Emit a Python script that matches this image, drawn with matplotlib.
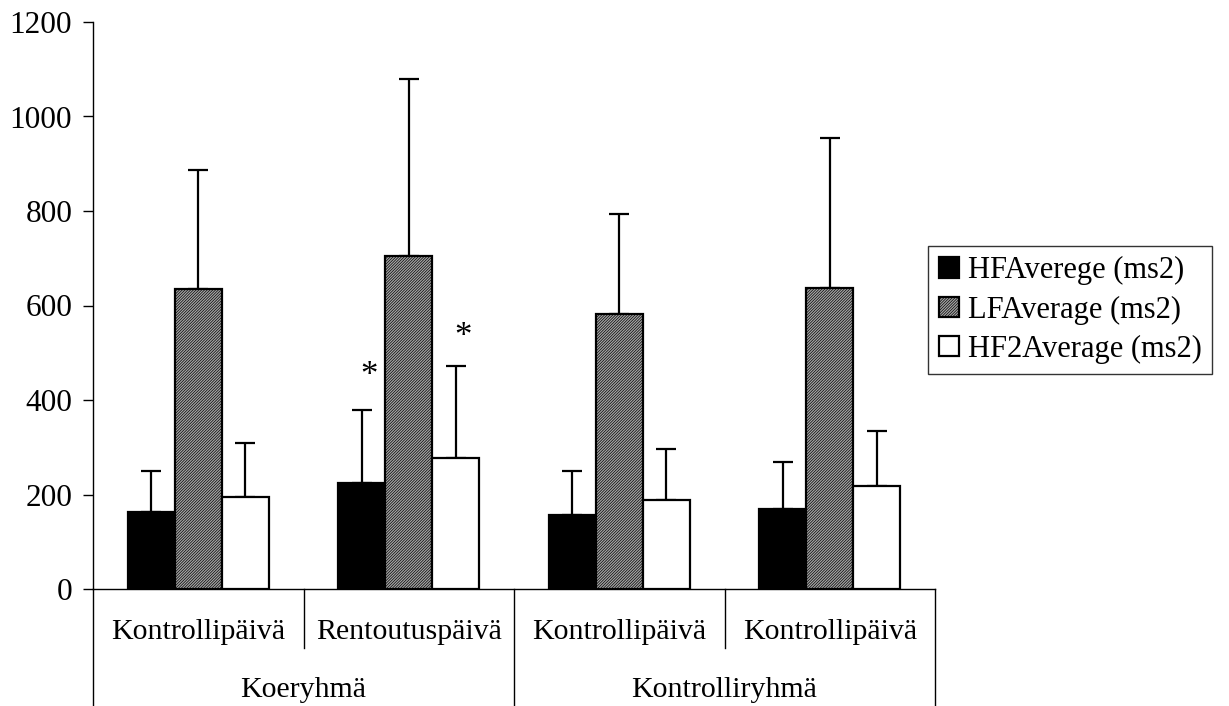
import matplotlib
matplotlib.use("Agg")
import matplotlib.pyplot as plt
import numpy as np
from matplotlib.transforms import blended_transform_factory

plt.rcParams['font.family'] = ['Liberation Serif', 'DejaVu Serif']
plt.rcParams['hatch.linewidth'] = 0.5
plt.rcParams['hatch.color'] = '#505050'

categories = ["Kontrollipäivä", "Rentoutuspäivä", "Kontrollipäivä", "Kontrollipäivä"]
groups = ["Koeryhmä", "Kontrolliryhmä"]
series_names = ["HFAverege (ms2)", "LFAverage (ms2)", "HF2Average (ms2)"]
hf_vals = [164, 225, 157, 169]
hf_err = [86, 154, 93, 100]
lf_vals = [634, 705, 582, 638]
lf_err = [253, 374, 211, 316]
hf2_vals = [195, 277, 188, 217]
hf2_err = [114, 194, 108, 118]
yticks = [0, 200, 400, 600, 800, 1000, 1200]

W, H = 1229, 706
fig = plt.figure(figsize=(W / 100, H / 100), dpi=100)
ax = fig.add_axes([93 / W, 1 - 589 / H, (935 - 93) / W, (589 - 22) / H])

x = np.arange(len(categories))
bw = 0.224
styles = [
    dict(facecolor='black', edgecolor='black', hatch=None),
    dict(facecolor='#a6a6a6', edgecolor='black', hatch='////////////'),
    dict(facecolor='white', edgecolor='black', hatch=None),
]
vals = [hf_vals, lf_vals, hf2_vals]
errs = [hf_err, lf_err, hf2_err]
handles = []
for i in range(3):
    pos = x + (i - 1) * bw
    b = ax.bar(pos, vals[i], width=bw, linewidth=1.6, label=series_names[i], zorder=2, **styles[i])
    handles.append(b)
    ax.errorbar(pos, vals[i], yerr=[np.zeros(len(x)), errs[i]], fmt='none',
                ecolor='black', elinewidth=1.6, capsize=7.5, capthick=1.6, zorder=1)

# significance markers
ax.text(x[1] - bw + 0.035, hf_vals[1] + hf_err[1] + 70, '*', ha='center', va='center', fontsize=25)
ax.text(x[1] + bw + 0.035, hf2_vals[1] + hf2_err[1] + 62, '*', ha='center', va='center', fontsize=25)

ax.set_xlim(-0.5, len(categories) - 0.5)
ax.set_ylim(0, 1200)
ax.set_yticks(yticks)
ax.set_yticklabels([str(t) for t in yticks])
ax.tick_params(axis='y', direction='out', length=7, width=1, labelsize=22.5, pad=8)
ax.tick_params(axis='x', length=0, labelbottom=False)
for s in ['top', 'right']:
    ax.spines[s].set_visible(False)
ax.spines['left'].set_linewidth(1)
ax.spines['bottom'].set_linewidth(1)

# hierarchical category axis
trans = blended_transform_factory(ax.transData, ax.transAxes)
px = 1 / (589 - 22)
cat_line_bottom = -(648 - 589) * px
grp_line_bottom = -(706 - 589) * px
for b in [0.5, 2.5]:
    ax.plot([b, b], [0, cat_line_bottom], transform=trans, color='black', lw=1, clip_on=False)
for b in [-0.5, 1.5, 3.5]:
    ax.plot([b, b], [0, grp_line_bottom - 0.01], transform=trans, color='black', lw=1, clip_on=False)
for xi, c in zip(x, categories):
    ax.text(xi, -(632 - 589) * px, c, transform=trans, ha='center', va='center', fontsize=21.5)
for gi, g in enumerate(groups):
    ax.text(gi * 2 + 0.5, -(690 - 589) * px, g, transform=trans, ha='center', va='center', fontsize=21.5)

leg = fig.legend(handles=handles, labels=series_names, loc='center left',
                 bbox_to_anchor=(928 / W, 1 - 310 / H), fontsize=22, frameon=True,
                 fancybox=False, edgecolor='black', handlelength=0.65, handleheight=0.65,
                 handletextpad=0.3, borderpad=0.35, labelspacing=0.33, borderaxespad=0)
leg.get_frame().set_linewidth(1)

fig.savefig('out.png', dpi=100)
